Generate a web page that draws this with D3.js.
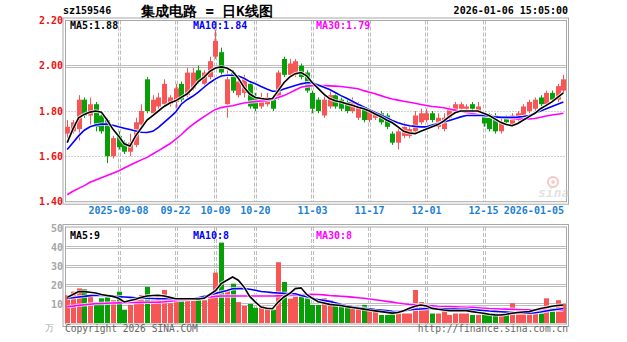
<!DOCTYPE html>
<html>
<head>
<meta charset="utf-8">
<script src="https://d3js.org/d3.v7.min.js"></script>
<style>
  html, body { margin: 0; padding: 0; background: #fff; }
  svg { display: block; }
  text { font-family: "DejaVu Sans Mono", "Liberation Mono", monospace; }
</style>
</head>
<body>
<svg id="chart" width="627" height="342"></svg>
<script>
// ---- daily bars (sz159546), oldest first ----
const opens  = [1.70,1.71,1.72,1.85,1.78,1.83,1.78,1.76,1.60,1.69,1.66,1.62,1.65,1.74,1.94,1.79,1.82,1.83,1.83,1.84,1.92,1.87,
                1.90,1.98,1.92,1.95,2.04,2.06,1.83,1.97,1.87,1.88,1.92,1.86,1.82,1.83,1.86,1.86,2.03,1.96,1.96,2.00,1.97,1.88,
                1.85,1.78,1.82,1.87,1.85,1.84,1.80,1.77,1.81,1.76,1.77,1.79,1.78,1.70,1.66,1.69,1.69,1.71,1.75,1.76,1.79,1.73,
                1.72,1.77,1.80,1.81,1.81,1.83,1.80,1.78,1.785,1.78,1.71,1.77,1.74,1.76,1.78,1.80,1.81,1.86,1.83,1.88,1.85,1.89];
const highs  = [1.76,1.76,1.87,1.86,1.86,1.84,1.80,1.77,1.69,1.71,1.67,1.70,1.77,1.83,1.95,1.87,1.88,1.94,1.87,1.92,1.93,1.99,
                1.99,2.00,1.98,2.04,2.16,2.08,1.98,1.98,1.95,1.96,1.93,1.88,1.88,1.88,1.87,1.98,2.04,2.03,2.03,2.01,1.98,1.89,
                1.86,1.88,1.89,1.88,1.86,1.85,1.86,1.84,1.82,1.81,1.80,1.80,1.79,1.71,1.73,1.75,1.74,1.80,1.81,1.81,1.80,1.79,
                1.79,1.82,1.84,1.84,1.83,1.84,1.84,1.79,1.79,1.79,1.77,1.78,1.79,1.80,1.83,1.85,1.86,1.87,1.89,1.89,1.92,1.96];
const lows   = [1.68,1.70,1.67,1.77,1.74,1.71,1.70,1.57,1.59,1.63,1.61,1.60,1.64,1.72,1.79,1.78,1.81,1.82,1.82,1.81,1.83,1.86,
                1.89,1.92,1.90,1.94,2.03,1.95,1.77,1.88,1.86,1.86,1.81,1.80,1.81,1.82,1.80,1.85,1.95,1.95,1.95,1.94,1.88,1.79,
                1.79,1.77,1.81,1.81,1.80,1.79,1.79,1.76,1.75,1.75,1.76,1.74,1.72,1.65,1.63,1.68,1.68,1.70,1.74,1.75,1.75,1.72,
                1.71,1.76,1.79,1.80,1.80,1.79,1.79,1.73,1.71,1.70,1.70,1.74,1.73,1.75,1.77,1.79,1.80,1.82,1.82,1.84,1.84,1.88];
const closes = [1.73,1.75,1.85,1.78,1.83,1.73,1.71,1.60,1.68,1.64,1.62,1.66,1.75,1.80,1.80,1.85,1.86,1.92,1.86,1.90,1.85,1.97,
                1.97,1.93,1.97,2.02,2.11,1.97,1.94,1.89,1.93,1.94,1.82,1.81,1.86,1.86,1.81,1.97,1.96,2.01,2.02,1.95,1.89,1.81,
                1.80,1.85,1.87,1.82,1.81,1.80,1.84,1.83,1.76,1.80,1.79,1.75,1.73,1.66,1.71,1.73,1.72,1.78,1.79,1.79,1.76,1.77,
                1.77,1.81,1.83,1.83,1.82,1.81,1.82,1.745,1.72,1.71,1.75,1.75,1.78,1.79,1.82,1.84,1.85,1.83,1.88,1.85,1.91,1.94];
// volume
const volumes = [14.7,16.5,18.2,17.7,14.7,9.5,13,15,12,16.5,7,9.5,13.7,14.7,19,12,14.7,17.4,10.4,13.5,13,13,
                 12,12,12,14.2,26.5,42.3,17,20.7,11,9,10,8,9,8,7,32,21.6,12.8,14.5,15.4,13,9.5,
                 9.5,13,12,9.5,9.5,9,7.7,7.7,9.5,6.8,6.8,4.2,4.2,4.5,5,5,5,17.4,11,10,5,5,
                 6.8,4.2,5,5,5,4.2,4.2,5,5,5,5,4.2,10.4,7,6,5.5,6,5,13,8,12,10];
// price moving averages
const ma5  = [1.66,1.72,1.77,1.785,1.795,1.80,1.795,1.76,1.72,1.69,1.655,1.645,1.69,1.725,1.76,1.78,1.80,1.82,1.835,1.845,1.86,1.875,
              1.90,1.93,1.95,1.975,1.99,1.995,1.99,1.975,1.945,1.905,1.875,1.86,1.855,1.852,1.855,1.89,1.925,1.95,1.965,1.97,1.955,1.925,
              1.90,1.875,1.855,1.845,1.84,1.832,1.825,1.817,1.81,1.80,1.787,1.775,1.76,1.748,1.73,1.71,1.703,1.70,1.71,1.72,1.73,1.74,
              1.755,1.775,1.792,1.80,1.80,1.80,1.80,1.79,1.78,1.765,1.75,1.74,1.735,1.745,1.76,1.775,1.79,1.81,1.825,1.84,1.86,1.88];
const ma10 = [1.63,1.66,1.69,1.715,1.73,1.738,1.742,1.742,1.737,1.73,1.724,1.718,1.712,1.706,1.705,1.71,1.728,1.75,1.772,1.795,1.83,1.85,
              1.865,1.883,1.905,1.925,1.942,1.955,1.958,1.958,1.955,1.945,1.93,1.92,1.908,1.897,1.887,1.888,1.897,1.905,1.913,1.92,1.925,1.925,
              1.915,1.905,1.895,1.882,1.868,1.856,1.843,1.83,1.818,1.806,1.794,1.782,1.77,1.758,1.748,1.74,1.735,1.732,1.73,1.73,1.738,1.745,
              1.752,1.758,1.766,1.774,1.78,1.78,1.78,1.78,1.777,1.774,1.772,1.772,1.772,1.773,1.776,1.78,1.79,1.80,1.81,1.82,1.83,1.84];
const ma30 = [1.43,1.445,1.458,1.47,1.485,1.495,1.505,1.515,1.525,1.535,1.548,1.56,1.572,1.584,1.595,1.61,1.625,1.64,1.655,1.675,1.695,1.72,
              1.74,1.758,1.775,1.792,1.807,1.815,1.82,1.823,1.83,1.835,1.839,1.842,1.844,1.846,1.852,1.86,1.868,1.88,1.893,1.905,1.91,1.912,
              1.912,1.912,1.911,1.91,1.908,1.905,1.902,1.898,1.89,1.883,1.876,1.868,1.86,1.853,1.848,1.843,1.839,1.834,1.829,1.824,1.82,1.818,
              1.814,1.809,1.804,1.799,1.794,1.789,1.784,1.78,1.777,1.774,1.772,1.77,1.767,1.765,1.765,1.765,1.767,1.772,1.778,1.782,1.786,1.79];
// volume moving averages
const volMa5  = [13.5,15,16.5,16.5,16.2,15.8,15,14.5,14,13,11.1,11.8,12.5,13.5,14.2,14.5,14.6,14.2,13.5,12.8,12.8,12.8,
                 12.8,12.6,13,15,17,20.7,22.5,24.2,22.5,19,14,11,8.4,7.8,7.5,11,13.7,15.5,18.1,18.5,15,13,
                 11.2,10.5,9.8,9.5,9.2,8.6,8.2,7.8,7.3,6.8,6.4,6,5.6,5.2,5.5,6.5,7.7,8.8,9.5,9,7.7,7.2,
                 6.8,6.5,6.5,6.5,6.5,6,5.5,5.1,4.6,4.3,4.2,4.6,5.1,5.5,5.8,6,6.8,7.6,8.2,8.8,9.2,9.5];
const volMa10 = [13,13.3,13.7,14,14.4,14.6,14.5,14.3,14.1,13.9,13.7,13.5,13.3,13.1,13,12.9,12.8,12.8,12.8,12.8,12.8,12.8,
                 12.8,13.3,14,14.8,15.6,16.3,17.1,18,18.1,18.1,17.8,17.2,16.6,16.3,16,15.8,15.6,15.5,15.4,14.5,13.8,13,
                 12.4,11.9,11.4,10.6,9.8,9.1,8.6,8.2,7.8,7.5,7.1,6.8,6.5,6.2,6,6.3,6.8,7.2,7.4,7.6,7.7,7.6,
                 7.5,7.4,7.3,7.2,7.2,7,6.8,6.6,6.3,6.1,5.9,5.7,5.5,5.3,5.2,5.1,5.4,5.8,6.3,6.8,7.2,7.6];
const volMa30 = [8.6,8.9,9.3,9.6,9.9,10.2,10.3,10.4,10.5,10.6,10.7,10.75,10.8,10.85,10.9,10.95,11,11.2,11.5,11.8,12,12.3,
                 12.5,12.9,13.3,13.7,14,14.2,14.2,14.2,14.2,14.2,14.2,14.2,14.2,14.2,14.2,14.3,14.4,14.5,14.6,14.8,15,15.1,
                 15,14.8,14.5,14.3,14.1,13.9,13.6,13.3,13,12.6,12.2,11.8,11.4,11,10.5,10.1,9.8,9.6,9.4,9.2,9,8.8,
                 8.7,8.6,8.5,8.4,8.3,8.2,8,7.8,7.6,7.5,7.4,7.3,7.2,7.1,7,7,6.9,6.9,6.8,6.8,6.8,6.8];

// axis ticks
const priceTicks = [1.40, 1.60, 1.80, 2.00, 2.20];
const volTicks = [10, 20, 30, 40, 50];
const dateTickIdx = [9, 19, 26, 33, 43, 53, 63, 73, 86];
const dateTickLabels = ["2025-09-08", "09-22", "10-09", "10-20", "11-03", "11-17", "12-01", "12-15", "2026-01-05"];

const titleCode = "sz159546";
const titleName = "集成电路 = 日K线图";
const titleTime = "2026-01-06 15:05:00";
const maLabels = ["MA5:1.88", "MA10:1.84", "MA30:1.79"];
const volMaLabels = ["MA5:9", "MA10:8", "MA30:8"];

// ---- layout ----
const RED = "#f85656", GREEN = "#06a006";
const MA_COLORS = ["#000000", "#0000ff", "#ff00ff"];
const GRID = "#bdbdbd", FRAME = "#a8a8a8";
const MONO = "DejaVu Sans Mono, Liberation Mono, monospace";

const svg = d3.select("#chart");
svg.append("rect").attr("width", 627).attr("height", 342).attr("fill", "#fff");

const n = closes.length;
const x = d3.scaleBand().domain(d3.range(n)).range([64.35, 566.2]).paddingInner(0.2).paddingOuter(0.1);
const cx = i => x(i) + x.bandwidth() / 2;
const yP = d3.scaleLinear().domain([1.40, 2.20]).range([201.5, 20.5]);
const yV = d3.scaleLinear().domain([0, 50]).range([323, 228]);

const P = { top: 20.5, bottom: 201.7 };
const V = { top: 227, bottom: 324 };
const L = 65.5, R = 566.5;

// vertical dashed date grid in both panels
function vGrid(top, bottom) {
  const g = svg.append("g");
  dateTickIdx.slice(0, -1).forEach(i => {
    [-1, 1].forEach(off => {
      g.append("line")
        .attr("x1", Math.round(cx(i)) + off + 0.5).attr("x2", Math.round(cx(i)) + off + 0.5)
        .attr("y1", top).attr("y2", bottom)
        .attr("stroke", GRID).attr("stroke-width", 1).attr("stroke-dasharray", "4,2");
    });
  });
}
vGrid(P.top, P.bottom);
vGrid(V.top, V.bottom);

// horizontal price grid
priceTicks.filter(v => v > 1.40 && v < 2.20).forEach(v => {
  const yy = Math.round(yP(v));
  if (Math.abs(v - 2.00) < 1e-9) {
    [yy - 1, yy + 1].forEach(y0 =>
      svg.append("line").attr("x1", L).attr("x2", R).attr("y1", y0 + 0.5).attr("y2", y0 + 0.5)
        .attr("stroke", GRID).attr("stroke-width", 1));
  } else {
    svg.append("line").attr("x1", L).attr("x2", R).attr("y1", yy + 0.5).attr("y2", yy + 0.5)
      .attr("stroke", "#a0a0a0").attr("stroke-width", 1).attr("stroke-dasharray", "1,2");
  }
});
// horizontal volume grid
volTicks.filter(v => v < 50).forEach(v => {
  const yy = Math.round(yV(v));
  [yy - 1, yy + 1].forEach(y0 =>
    svg.append("line").attr("x1", L).attr("x2", R).attr("y1", y0 + 0.5).attr("y2", y0 + 0.5)
      .attr("stroke", GRID).attr("stroke-width", 1));
});

// panel frames (double line)
function frame(top, bottom) {
  svg.append("rect").attr("x", 63).attr("y", top - 2.5).attr("width", 505.5).attr("height", bottom - top + 5)
    .attr("fill", "none").attr("stroke", FRAME).attr("stroke-width", 1);
  svg.append("rect").attr("x", L).attr("y", top).attr("width", R - L).attr("height", bottom - top)
    .attr("fill", "none").attr("stroke", FRAME).attr("stroke-width", 1);
}
frame(P.top, P.bottom);
frame(V.top, V.bottom);

// sina watermark
const wm = svg.append("g").attr("opacity", 0.55);
wm.append("circle").attr("cx", 553).attr("cy", 182).attr("r", 5).attr("fill", "none").attr("stroke", "#e99").attr("stroke-width", 2);
wm.append("circle").attr("cx", 553).attr("cy", 182).attr("r", 1.8).attr("fill", "#e99");
wm.append("text").attr("x", 538).attr("y", 197).attr("font-size", 13).attr("font-weight", "bold")
  .attr("font-family", "Liberation Sans, Arial, sans-serif")
  .attr("font-style", "italic").attr("fill", "#ccc").text("sina");

// candles
const candles = svg.append("g");
d3.range(n).forEach(i => {
  const up = closes[i] >= opens[i];
  const col = up ? RED : GREEN;
  const c = Math.round(cx(i)) + 0.5;
  candles.append("line").attr("x1", c).attr("x2", c)
    .attr("y1", yP(highs[i])).attr("y2", yP(lows[i]))
    .attr("stroke", col).attr("stroke-width", 1);
  const yTop = yP(Math.max(opens[i], closes[i]));
  const yBot = yP(Math.min(opens[i], closes[i]));
  candles.append("rect").attr("x", c - 2.5).attr("width", 5)
    .attr("y", yTop).attr("height", Math.max(1, yBot - yTop))
    .attr("fill", col);
});

// volume bars
const vbars = svg.append("g");
d3.range(n).forEach(i => {
  const up = closes[i] >= opens[i];
  vbars.append("rect").attr("x", Math.round(cx(i)) - 2).attr("width", 5)
    .attr("y", yV(volumes[i])).attr("height", yV(0) - yV(volumes[i]))
    .attr("fill", up ? RED : GREEN);
});

// moving average lines with white halo
function maLine(data, yScale, color) {
  const line = d3.line().x((d, i) => cx(i)).y(d => yScale(d)).curve(d3.curveLinear);
  svg.append("path").datum(data).attr("d", line).attr("fill", "none")
    .attr("stroke", "#fff").attr("stroke-width", 3.4).attr("stroke-opacity", 0.75);
  svg.append("path").datum(data).attr("d", line).attr("fill", "none")
    .attr("stroke", color).attr("stroke-width", 1.6);
}
maLine(ma30, yP, MA_COLORS[2]);
maLine(ma10, yP, MA_COLORS[1]);
maLine(ma5, yP, MA_COLORS[0]);
maLine(volMa30, yV, MA_COLORS[2]);
maLine(volMa10, yV, MA_COLORS[1]);
maLine(volMa5, yV, MA_COLORS[0]);

// price axis labels
const yAxis = d3.axisLeft(yP).tickValues(priceTicks).tickFormat(d3.format(".2f")).tickSize(0).tickPadding(1);
const ya = svg.append("g").attr("transform", "translate(64,0)").call(yAxis);
ya.select(".domain").remove();
ya.selectAll("text").attr("fill", "#ee1111").attr("font-size", 10).attr("font-weight", "bold")
  .attr("font-family", MONO);

// volume axis labels
const vAxis = d3.axisLeft(yV).tickValues(volTicks).tickFormat(d3.format("d")).tickSize(0).tickPadding(1);
const va = svg.append("g").attr("transform", "translate(64,0)").call(vAxis);
va.select(".domain").remove();
va.selectAll("text").attr("fill", "#a6a6a6").attr("font-size", 10).attr("font-weight", "bold")
  .attr("font-family", MONO);

// date axis
const xAxis = d3.axisBottom(x).tickValues(dateTickIdx)
  .tickFormat(i => dateTickLabels[dateTickIdx.indexOf(i)]).tickSize(0).tickPadding(4);
const xa = svg.append("g").attr("transform", `translate(0,${P.bottom + 1})`).call(xAxis);
xa.select(".domain").remove();
xa.selectAll("text").attr("fill", "#1a7fd4").attr("font-size", 10).attr("font-weight", "bold")
  .attr("font-family", MONO);
xa.selectAll(".tick").filter(i => i === dateTickIdx[dateTickIdx.length - 1])
  .select("text").attr("text-anchor", "end").attr("dx", (564 - cx(86)) + "px");

// header
svg.append("text").attr("x", 63).attr("y", 14).attr("font-size", 10).attr("font-weight", "bold")
  .attr("font-family", MONO).attr("fill", "#000").text(titleCode);
svg.append("text").attr("x", 141).attr("y", 16).attr("font-size", 14).attr("font-weight", "bold")
  .attr("font-family", "Noto Sans CJK SC, sans-serif").attr("fill", "#000").text(titleName);
svg.append("text").attr("x", 568).attr("y", 14).attr("text-anchor", "end").attr("font-size", 10)
  .attr("font-family", MONO).attr("font-weight", "bold").attr("fill", "#000").text(titleTime);

// MA legends
const legendX = [70, 193, 316];
maLabels.forEach((t, k) => svg.append("text").attr("x", legendX[k]).attr("y", 29).attr("font-size", 10)
  .attr("font-family", MONO).attr("font-weight", "bold").attr("fill", MA_COLORS[k]).text(t));
volMaLabels.forEach((t, k) => svg.append("text").attr("x", legendX[k]).attr("y", 239).attr("font-size", 10)
  .attr("font-family", MONO).attr("font-weight", "bold").attr("fill", MA_COLORS[k]).text(t));

// footer
svg.append("text").attr("x", 45).attr("y", 331).attr("font-size", 9).attr("fill", "#aaa")
  .attr("font-family", "Noto Sans CJK SC, sans-serif").text("万");
svg.append("text").attr("x", 65).attr("y", 332).attr("font-size", 9.6).attr("fill", "#666")
  .attr("font-family", MONO).text("Copyright 2026 SINA.COM");
svg.append("text").attr("x", 568).attr("y", 332).attr("text-anchor", "end").attr("font-size", 9.6)
  .attr("font-family", MONO).attr("fill", "#666").text("http://finance.sina.com.cn");
</script>
</body>
</html>
